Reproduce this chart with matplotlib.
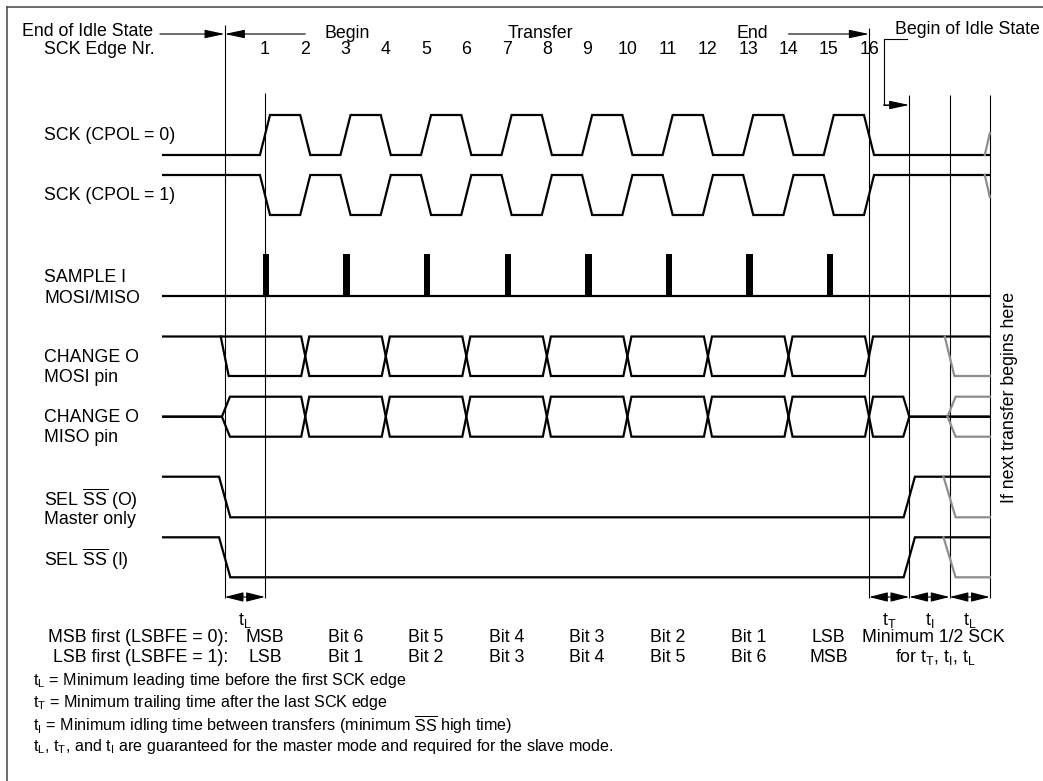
import numpy as np
import matplotlib.pyplot as plt
from matplotlib.lines import Line2D

plt.rcParams['font.family'] = ['Liberation Sans', 'DejaVu Sans']
plt.rcParams['mathtext.fontset'] = 'custom'
plt.rcParams['mathtext.rm'] = 'Liberation Sans'
plt.rcParams['mathtext.it'] = 'Liberation Sans'

# timing, in half SCK periods (SCK edge k sits at t = k)
edge_nr = list(range(1, 17))
sample_edges = edge_nr[0::2]        # odd edges -> sample strobes
change_edges = edge_nr[1::2]        # even edges -> MOSI/MISO change
ss_edges = [0, 17]                  # SS low at end of idle, high after tT
next_edge = 18                      # next transfer may begin here
t_start, t_end = -1.53, 19

msb_first = ['MSB', 'Bit 6', 'Bit 5', 'Bit 4', 'Bit 3', 'Bit 2', 'Bit 1', 'LSB']
lsb_first = ['LSB', 'Bit 1', 'Bit 2', 'Bit 3', 'Bit 4', 'Bit 5', 'Bit 6', 'MSB']
interval_labels = ['t$_\\mathregular{L}$', 't$_\\mathregular{T}$', 't$_\\mathregular{I}$', 't$_\\mathregular{L}$']
interval_start = [0, 16, 17, 18]

W, H = 1043, 781
X0, DX = 224.7, 40.27              # pixel of t=0, pixels per half period
FS = 12.8
FS_NOTE = 11.6
GREY = '#8e8e8e'

fig = plt.figure(figsize=(W / 100, H / 100), dpi=100)
ax = fig.add_axes([0, 0, 1, 1])
ax.set_xlim(-X0 / DX, (W - X0) / DX)
ax.set_ylim(H, 0)
ax.axis('off')


def put(x, y, s, **kw):
    # text placed in picture pixels
    kw.setdefault('fontsize', FS)
    kw.setdefault('va', 'center')
    fig.text(x / W, 1 - y / H, s, **kw)


def digital(edges, first, t0, t1, w):
    ts, lv = [t0], [first]
    lev = first
    for e in edges:
        ts += [e - w, e + w]
        lv += [lev, 1 - lev]
        lev = 1 - lev
    ts.append(t1)
    lv.append(lev)
    return np.array(ts), np.array(lv, dtype=float)


def draw(ts, lv, hi, lo, color='k', lw=1.6):
    ax.plot(ts, lo - lv * (lo - hi), color=color, lw=lw, solid_joinstyle='miter')


# frame (top and left only)
fig.add_artist(Line2D([7 / W, 1], [1 - 7 / H] * 2, color='#444444', lw=1.1))
fig.add_artist(Line2D([7 / W] * 2, [0, 1 - 7 / H], color='#444444', lw=1.1))

# vertical reference lines
ax.vlines([0], 25, 598, color='k', lw=0.8)
ax.vlines([1], 93, 598, color='k', lw=0.8)
ax.vlines([16], 28, 598, color='k', lw=0.8)
ax.vlines([17, 18, 19], 95, 598, color='k', lw=0.8)

# SCK CPOL = 0 / 1
ts, lv = digital(edge_nr, 0, t_start, t_end, 0.125)
draw(ts, lv, 115, 155)
draw(ts, 1 - lv, 175, 215)
ax.plot([19 - 0.125, 19], [155, 133], color=GREY, lw=1.6)
ax.plot([19 - 0.125, 19], [175, 197], color=GREY, lw=1.6)

# sample strobes
ax.plot([t_start, t_end], [296, 296], color='k', lw=1.6)
ax.bar(np.array(sample_edges) + 0.03, 254 - 296, bottom=296, width=0.16, color='k')

# MOSI bus
ts, lv = digital(change_edges, 1, t_start, t_end, 0.1)
draw(ts, lv, 336.5, 376)
ts, lv = digital([0] + change_edges[:-1], 1, -0.1, 16 - 0.1, 0.1)
ts = np.append(ts, 16)
lv = np.append(lv, 0.5)
draw(ts, lv, 336.5, 376)
draw(np.array([next_edge - 0.12, next_edge + 0.12, t_end]), np.array([1, 0, 0]), 336.5, 376, color=GREY)

# MISO bus
for first in (1, 0):
    ts, lv = digital(change_edges, first, 0.13, 17 - 0.15, 0.1)
    ts = np.concatenate([[t_start, -0.07], ts, [17, t_end]])
    lv = np.concatenate([[0.5, 0.5], lv, [0.5, 0.5]])
    draw(ts, lv, 396.7, 436.7)
    draw(np.array([next_edge - 0.05, next_edge + 0.15, t_end]), np.array([0.5, first, first]),
         396.7, 436.7, color=GREY)

# slave select (master output / slave input)
for hi, lo in [(476.7, 517.3), (537.3, 577.3)]:
    ts, lv = digital(ss_edges, 1, t_start, t_end, 0.14)
    draw(ts, lv, hi, lo)
    draw(np.array([next_edge - 0.15, next_edge + 0.15, t_end]), np.array([1, 0, 0]), hi, lo, color=GREY)

# top arrows
head = '-|>,head_length=1.22,head_width=0.26'
ap = dict(arrowstyle=head, color='k', lw=0.8, shrinkA=0, shrinkB=0, mutation_scale=10)
ax.annotate('', xy=(0, 34), xytext=(-1.61, 34), arrowprops=ap)
ax.annotate('', xy=(0, 34), xytext=(2, 34), arrowprops=ap)
ax.annotate('', xy=(16, 34), xytext=(14, 34), arrowprops=ap)
ax.plot([16.95, 16.36, 16.36, 16.6], [39, 39, 105, 105], color='k', lw=0.8)
ax.annotate('', xy=(17, 105), xytext=(16.36, 105), arrowprops=ap)

put(22, 31, 'End of Idle State')
ax.text(3.05, 33, 'Begin', fontsize=FS, ha='center', va='center')
ax.text(7.85, 33, 'Transfer', fontsize=FS, ha='center', va='center')
ax.text(13.1, 33, 'End', fontsize=FS, ha='center', va='center')
put(895, 29, 'Begin of Idle State')

# edge numbers
put(44, 50, 'SCK Edge Nr.')
for k in edge_nr:
    ax.text(k, 50, str(k), fontsize=FS, ha='center', va='center')

# signal names
put(44, 136, 'SCK (CPOL = 0)')
put(44, 196, 'SCK (CPOL = 1)')
put(44, 278, 'SAMPLE I')
put(44, 298, 'MOSI/MISO')
put(44, 357, 'CHANGE O')
put(44, 377, 'MOSI pin')
put(44, 418, 'CHANGE O')
put(44, 438, 'MISO pin')
put(44, 499, 'SEL $\\overline{\\mathregular{SS}}$ (O)')
put(44, 519, 'Master only')
put(44, 559, 'SEL $\\overline{\\mathregular{SS}}$ (I)')

put(1010, 397, 'If next transfer begins here', rotation=90, ha='center')

# interval arrows
ap2 = dict(arrowstyle='<|-|>,head_length=1.15,head_width=0.29', color='k', lw=0.8,
           shrinkA=0, shrinkB=0, mutation_scale=10)
for t0, lab in zip(interval_start, interval_labels):
    ax.annotate('', xy=(t0, 597), xytext=(t0 + 1, 597), arrowprops=ap2)
    ax.text(t0 + 0.5, 620, lab, fontsize=FS, ha='center', va='center')

# bit order rows
put(228, 638, 'MSB first (LSBFE = 0):', ha='right')
put(228, 657, 'LSB first (LSBFE = 1):', ha='right')
for k, a, b in zip(sample_edges, msb_first, lsb_first):
    ax.text(k, 638, a, fontsize=FS, ha='center', va='center')
    ax.text(k, 657, b, fontsize=FS, ha='center', va='center')
ax.text(17.6, 638, 'Minimum 1/2 SCK', fontsize=FS, ha='center', va='center')
ax.text(17.65, 657, 'for t$_\\mathregular{T}$, t$_\\mathregular{I}$, t$_\\mathregular{L}$',
        fontsize=FS, ha='center', va='center')

put(33, 681, 't$_\\mathregular{L}$ = Minimum leading time before the first SCK edge', fontsize=FS_NOTE)
put(33, 703, 't$_\\mathregular{T}$ = Minimum trailing time after the last SCK edge', fontsize=FS_NOTE)
put(33, 725, 't$_\\mathregular{I}$ = Minimum idling time between transfers '
             '(minimum $\\overline{\\mathregular{SS}}$ high time)', fontsize=FS_NOTE)
put(33, 747, 't$_\\mathregular{L}$, t$_\\mathregular{T}$, and t$_\\mathregular{I}$ are guaranteed '
             'for the master mode and required for the slave mode.', fontsize=FS_NOTE)

fig.savefig('out.png', dpi=100)
